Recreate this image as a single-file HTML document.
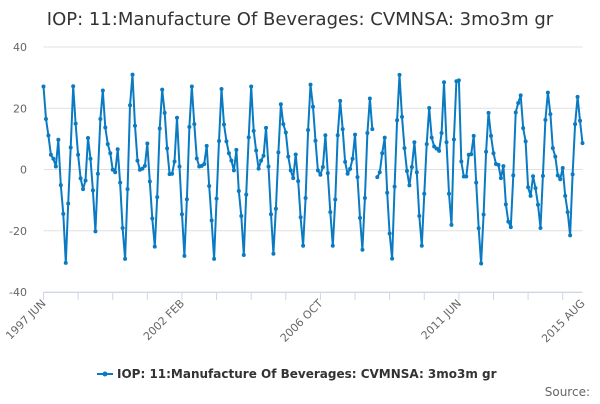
<!DOCTYPE html>
<html><head><meta charset="utf-8"><style>
body{margin:0;background:#fff;width:600px;height:400px;overflow:hidden;font-family:"DejaVu Sans","Liberation Sans",sans-serif}
svg text{font-family:"DejaVu Sans","Liberation Sans",sans-serif}
</style></head><body>
<svg width="600" height="400" id="chart">
<text x="300" y="25" text-anchor="middle" font-size="18" fill="#333">IOP: 11:Manufacture Of Beverages: CVMNSA: 3mo3m gr</text>
<g id="grid"></g><g id="axes"></g><g id="series"></g>
<g>
<line x1="97" y1="374" x2="113" y2="374" stroke="#0a7bc2" stroke-width="2"/>
<circle cx="105" cy="374" r="2.5" fill="#0a7bc2"/>
<text x="117" y="378" font-size="12" font-weight="bold" fill="#333">IOP: 11:Manufacture Of Beverages: CVMNSA: 3mo3m gr</text>
</g>
<text x="590" y="396" text-anchor="end" font-size="12" fill="#666">Source:</text>
</svg>
<script>
const yTicks=[40,20,0,-20,-40];
const xLabels=["1997 JUN","2002 FEB","2006 OCT","2011 JUN","2015 AUG"];
const xLabelIdx=[0,56,112,168,218];
const values=[27.1,16.5,11.1,4.8,3.5,1.0,9.7,-5.1,-14.5,-30.5,-11.1,7.2,27.2,15.0,4.8,-2.9,-6.4,-3.6,10.3,3.5,-6.8,-20.2,-1.4,16.5,25.8,13.7,8.3,5.3,-0.1,-0.9,6.6,-4.3,-19.1,-29.2,-6.4,21.0,31.0,14.3,2.9,-0.1,0.3,1.2,8.5,-3.9,-16.0,-25.2,-9.0,13.4,26.1,18.5,6.9,-1.5,-1.4,2.6,16.9,1.0,
-14.6,-28.2,-9.7,13.9,27.1,14.8,3.6,1.0,1.2,1.8,7.7,-5.4,-16.6,-29.2,-9.5,9.3,26.3,14.7,9.2,5.3,2.9,-0.3,6.4,-7.0,-15.2,-27.9,-8.2,10.5,27.1,12.6,6.2,0.3,2.9,4.5,13.6,1.0,-14.6,-27.5,-12.8,5.6,21.3,14.8,12.1,4.2,-0.3,-2.8,4.9,-3.8,-15.6,-24.9,-9.3,12.9,27.7,20.5,9.4,-0.3,-1.7,
0.8,11.2,-1.2,-13.9,-24.9,-9.8,11.2,22.4,13.2,2.5,-1.4,0.2,3.5,11.4,-2.5,-15.8,-26.2,-9.3,11.9,23.2,13.2,null,-2.5,-0.9,5.3,10.4,-7.6,-20.9,-29.1,-5.6,16.1,30.9,17.2,7.0,-0.5,-5.2,0.8,8.9,-0.9,-15.2,-24.9,-7.9,8.3,20.1,10.4,7.5,6.8,6.1,11.9,28.5,8.9,-7.9,-18.1,9.8,28.8,29.1,
2.6,-2.3,-2.3,4.8,5.0,11.0,-4.3,-19.2,-30.7,-14.7,5.8,18.5,11.0,5.3,1.8,1.5,-2.8,1.1,-11.4,-17.0,-18.8,-1.9,18.6,21.7,24.2,13.5,9.2,-5.8,-8.6,-2.2,-6.1,-11.5,-19.1,-2.1,16.2,25.1,18.1,7.0,4.2,-1.9,-3.2,0.5,-8.6,-13.9,-21.5,-1.6,14.8,23.7,15.9,8.6];
const NS="http://www.w3.org/2000/svg";
const X0=43.5,X1=582.5,Y0=47,Y1=292;
const N=values.length;
function xs(i){return X0+(X1-X0)*i/(N-1);}
function ys(v){return Y1-(v+40)/80*(Y1-Y0);}
function mk(t,a,p){const e=document.createElementNS(NS,t);for(const k in a)e.setAttribute(k,a[k]);p.appendChild(e);return e;}
const grid=document.getElementById('grid'),axes=document.getElementById('axes'),ser=document.getElementById('series');
yTicks.forEach(v=>{
 const l=mk('line',{x1:X0,x2:X1,y1:ys(v),y2:ys(v),stroke:'#e0e0e0','stroke-width':1},grid);
 
 
 const t=mk('text',{x:27,y:ys(v)+4,'text-anchor':'end','font-size':11,fill:'#666'},axes);
 t.textContent=v;
 
 
});
const ax=mk('line',{x1:X0,x2:X1,y1:Y1+0.5,y2:Y1+0.5,stroke:'#ccd6eb','stroke-width':1},axes);


for(let i=0;i<N;i+=14){
 const tk=mk('line',{x1:xs(i),x2:xs(i),y1:Y1,y2:Y1+8,stroke:'#ccd6eb'},axes);
 
 
}
xLabels.forEach((s,k)=>{
 const x=xs(xLabelIdx[k]);
 const t=mk('text',{x:x+3,y:Y1+12,'text-anchor':'end','font-size':11,fill:'#666',transform:`rotate(-45 ${x+3} ${Y1+12})`},axes);
 t.textContent=s;
 
 
});
let d='',pen=false;
values.forEach((v,i)=>{if(v===null){pen=false;return;}d+=(pen?'L':'M')+xs(i).toFixed(1)+' '+ys(v).toFixed(1);pen=true;});
const p=mk('path',{d:d,fill:'none',stroke:'#0a7bc2','stroke-width':2,'stroke-linejoin':'round'},ser);


values.forEach((v,i)=>{if(v===null)return;
 const c=mk('circle',{cx:xs(i),cy:ys(v),r:2,fill:'#0a7bc2'},ser);
 
 
});
</script>
</body></html>
